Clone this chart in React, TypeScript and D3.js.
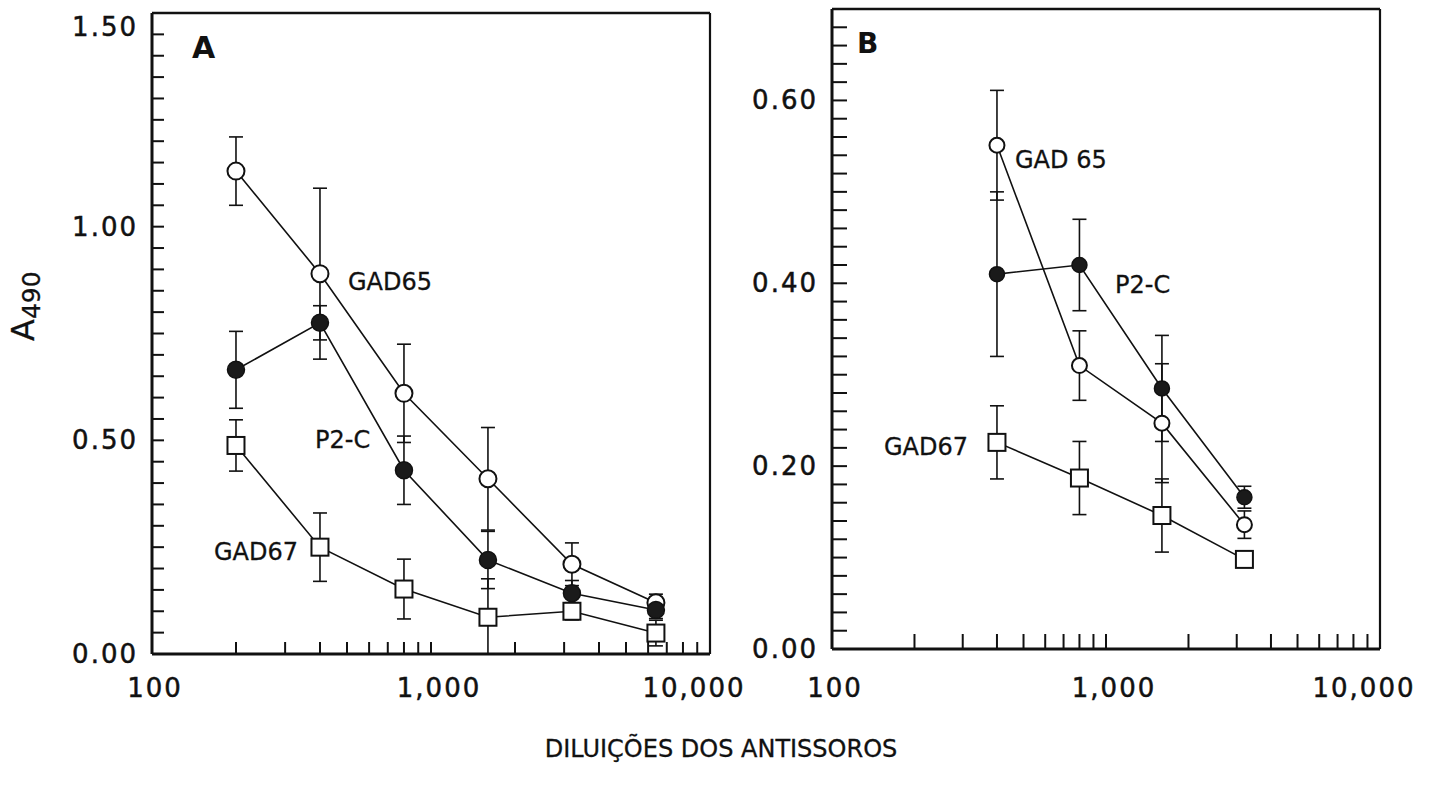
import React from 'react';
import * as d3 from 'd3';

// diluições (eixo x, log)
const dilutionsA = [200, 400, 800, 1600, 3200, 6400];
const dilutionsB = [400, 800, 1600, 3200];

// painel A
const gad65A = [1.13, 0.89, 0.61, 0.41, 0.21, 0.12];
const gad65AErr = [0.08, 0.2, 0.115, 0.12, 0.05, 0.02];
const p2cA = [0.665, 0.775, 0.43, 0.22, 0.142, 0.103];
const p2cAErr = [0.09, 0.04, 0.08, 0.067, 0.03, 0.02];
const gad67A = [0.488, 0.25, 0.152, 0.086, 0.1, 0.049];
const gad67AErr = [0.06, 0.08, 0.07, 0.09, 0.02, 0.03];

// painel B
const gad65B = [0.551, 0.31, 0.247, 0.136];
const gad65BErr = [0.06, 0.038, 0.065, 0.015];
const p2cB = [0.41, 0.42, 0.285, 0.166];
const p2cBErr = [0.09, 0.05, 0.058, 0.012];
const gad67B = [0.226, 0.187, 0.146, 0.098];
const gad67BErr = [0.04, 0.04, 0.04, 0.008];

const xLabelValues = [100, 1000, 10000];
const yLabelsA = [0, 0.5, 1.0, 1.5];
const yLabelsB = [0, 0.2, 0.4, 0.6];

const INK = '#111';
const FONT = "'DejaVu Sans', sans-serif";

type Marker = 'open' | 'filled' | 'square';
type Series = { values: number[]; err: number[]; marker: Marker };
type Note = { text: string; x: number; y: number };

type PanelProps = {
  left: number; right: number; top: number; bottom: number;
  yMax: number; yTop: number; yStep: number; yLabels: number[];
  dilutions: number[]; series: Series[];
  letter: string; letterX: number; letterY: number; letterSize: number;
  notes: Note[]; radius: number; tickLen: number;
};

function Panel(p: PanelProps) {
  const x = d3.scaleLog().domain([100, 10000]).range([p.left, p.right]);
  const y = d3.scaleLinear().domain([0, p.yMax]).range([p.bottom, p.top]);
  const xMinor = x.ticks().filter(v => v > 100 && v < 10000);
  const yMinor = d3.range(p.yStep, p.yTop - 1e-6, p.yStep);
  const fmtX = d3.format(',');
  const fmtY = d3.format('.2f');
  const line = d3.line<number>()
    .x((_, i) => x(p.dilutions[i]))
    .y(v => y(v));

  return (
    <g>
      {/* ticks inward */}
      {yMinor.map(v => (
        <line key={'yt' + v} x1={p.left} x2={p.left + p.tickLen} y1={y(v)} y2={y(v)} stroke={INK} strokeWidth={2} />
      ))}
      {xMinor.map(v => (
        <line key={'xt' + v} x1={x(v)} x2={x(v)} y1={p.bottom} y2={p.bottom - p.tickLen} stroke={INK} strokeWidth={2} />
      ))}
      {/* frame */}
      <line x1={p.left} x2={p.right} y1={p.top} y2={p.top} stroke={INK} strokeWidth={2.5} />
      <line x1={p.right} x2={p.right} y1={p.top} y2={p.bottom} stroke={INK} strokeWidth={2.2} />
      <line x1={p.left} x2={p.left} y1={p.top} y2={p.bottom} stroke={INK} strokeWidth={3} />
      <line x1={p.left} x2={p.right} y1={p.bottom} y2={p.bottom} stroke={INK} strokeWidth={3} />

      {/* tick labels */}
      {p.yLabels.map(v => (
        <text key={'yl' + v} x={p.left - 14} y={Math.max(y(v), p.top + 14) + 9} textAnchor="end"
          fontFamily={FONT} fontSize={26} letterSpacing={2} fill={INK} stroke={INK} strokeWidth={0.5}>{fmtY(v)}</text>
      ))}
      {xLabelValues.map(v => (
        <text key={'xl' + v} x={x(v) + (v === 10000 ? -16 : v === 1000 ? 8 : 3)} y={697} textAnchor="middle"
          fontFamily={FONT} fontSize={26} letterSpacing={2} fill={INK} stroke={INK} strokeWidth={0.5}>{fmtX(v)}</text>
      ))}

      {/* lines */}
      {p.series.map((s, k) => (
        <path key={'ln' + k} d={line(s.values) || ''} fill="none" stroke={INK} strokeWidth={1.6} />
      ))}
      {/* error bars */}
      {p.series.map((s, k) => s.values.map((v, i) => {
        const cx = x(p.dilutions[i]);
        const lo = y(Math.max(0, v - s.err[i]));
        const hi = y(v + s.err[i]);
        return (
          <g key={'eb' + k + '-' + i} stroke={INK} strokeWidth={1.6}>
            <line x1={cx} x2={cx} y1={lo} y2={hi} />
            <line x1={cx - 7} x2={cx + 7} y1={hi} y2={hi} />
            <line x1={cx - 7} x2={cx + 7} y1={lo} y2={lo} />
          </g>
        );
      }))}
      {/* markers */}
      {p.series.map((s, k) => s.values.map((v, i) => {
        const cx = x(p.dilutions[i]);
        const cy = y(v);
        if (s.marker === 'square') {
          return <rect key={'mk' + k + '-' + i} x={cx - 8.5} y={cy - 8.5} width={17} height={17}
            fill="#fff" stroke={INK} strokeWidth={2} />;
        }
        if (s.marker === 'filled') {
          return <circle key={'mk' + k + '-' + i} cx={cx} cy={cy} r={p.radius} fill="#1a1a1a" stroke={INK} strokeWidth={1.5} />;
        }
        return <circle key={'mk' + k + '-' + i} cx={cx} cy={cy} r={p.radius} fill="#fff" stroke={INK} strokeWidth={2} />;
      }))}

      {/* annotations */}
      <text x={p.letterX} y={p.letterY} fontFamily={FONT} fontWeight="bold" fontSize={p.letterSize} fill={INK}>{p.letter}</text>
      {p.notes.map(n => (
        <text key={n.text} x={n.x} y={n.y} fontFamily={FONT} fontSize={24} fill={INK} stroke={INK} strokeWidth={0.3}>{n.text}</text>
      ))}
    </g>
  );
}

export default function App() {
  return (
    <svg width={1440} height={788} style={{ position: 'absolute', left: 0, top: 0, background: '#fff' }}>
      <rect width={1440} height={788} fill="#fff" />
      <Panel
        left={152} right={710} top={13} bottom={654}
        yMax={1.5} yTop={1.5} yStep={0.05} yLabels={yLabelsA}
        dilutions={dilutionsA}
        series={[
          { values: gad65A, err: gad65AErr, marker: 'open' },
          { values: p2cA, err: p2cAErr, marker: 'filled' },
          { values: gad67A, err: gad67AErr, marker: 'square' },
        ]}
        letter="A" letterX={192} letterY={58} letterSize={30}
        notes={[
          { text: 'GAD65', x: 348, y: 290 },
          { text: 'P2-C', x: 315, y: 448 },
          { text: 'GAD67', x: 214, y: 560 },
        ]}
        radius={8.5} tickLen={12}
      />
      <Panel
        left={832} right={1380} top={9} bottom={649}
        yMax={0.7} yTop={0.7} yStep={0.02} yLabels={yLabelsB}
        dilutions={dilutionsB}
        series={[
          { values: gad65B, err: gad65BErr, marker: 'open' },
          { values: p2cB, err: p2cBErr, marker: 'filled' },
          { values: gad67B, err: gad67BErr, marker: 'square' },
        ]}
        letter="B" letterX={857} letterY={53} letterSize={28}
        notes={[
          { text: 'GAD 65', x: 1015, y: 168 },
          { text: 'P2-C', x: 1115, y: 293 },
          { text: 'GAD67', x: 884, y: 455 },
        ]}
        radius={7.5} tickLen={15}
      />
      {/* y axis title A490 */}
      <text transform="translate(34,341) rotate(-90)" fontFamily={FONT} fontSize={32} fill={INK} stroke={INK} strokeWidth={0.3}>
        A<tspan fontSize={25} dy={6}>490</tspan>
      </text>
      <text x={721} y={757} textAnchor="middle" fontFamily={FONT} fontSize={24} fill={INK} stroke={INK} strokeWidth={0.3}>
        DILUIÇÕES DOS ANTISSOROS
      </text>
    </svg>
  );
}
